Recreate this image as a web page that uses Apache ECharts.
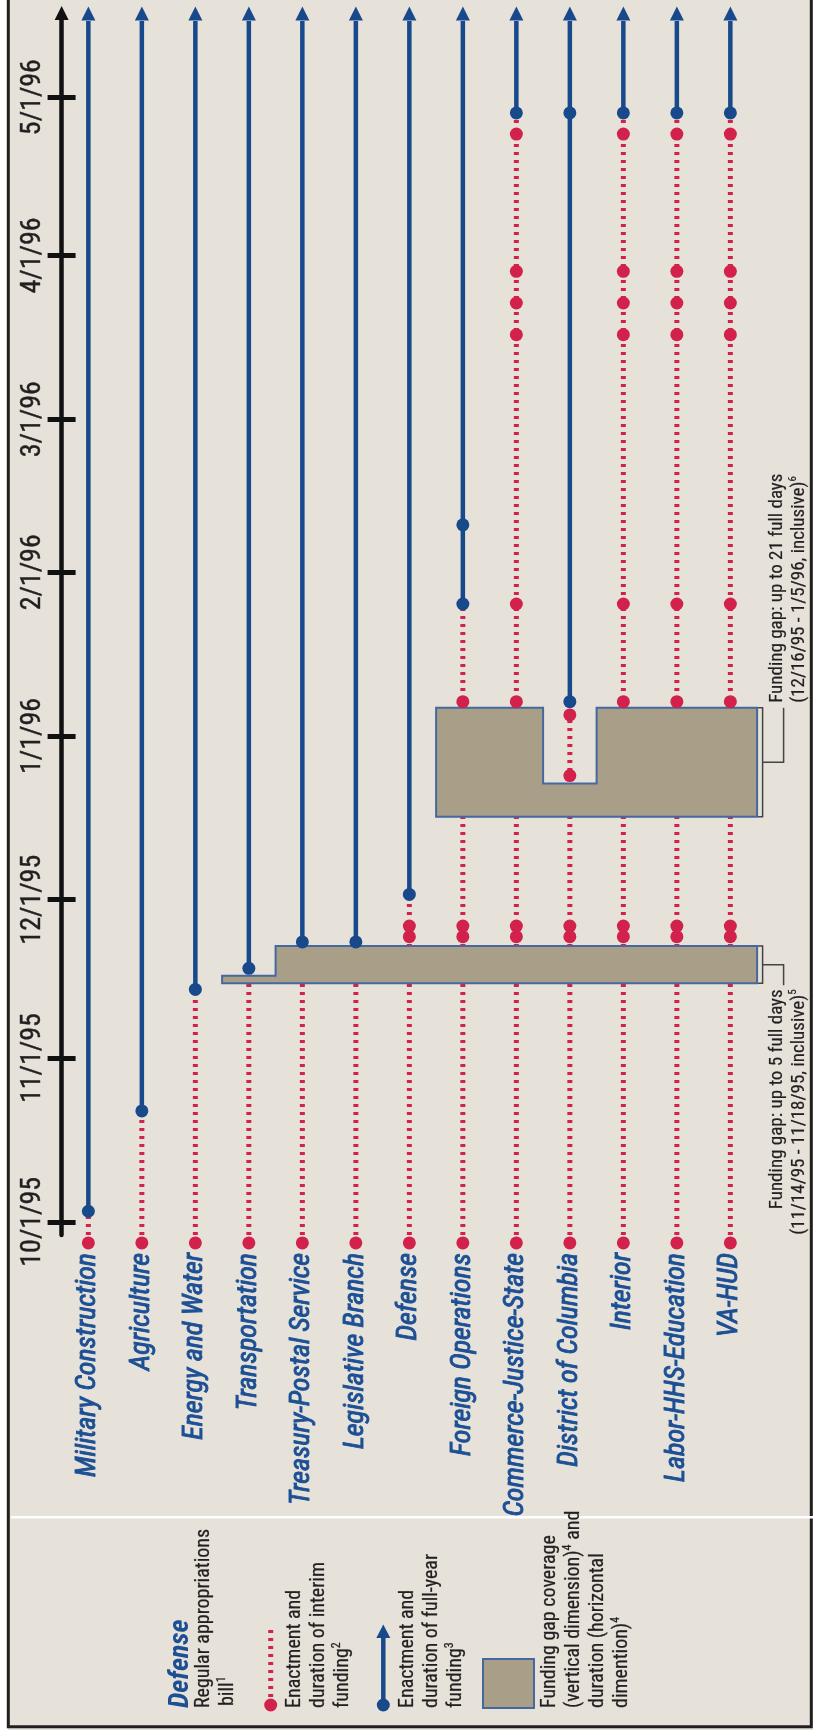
<!DOCTYPE html>
<html><head><meta charset="utf-8">
<script src="https://cdn.jsdelivr.net/npm/echarts@6/dist/echarts.min.js"></script>
<style>html,body{margin:0;padding:0;background:#fff}#c{width:813px;height:1730px}</style>
</head><body><div id="c"></div>
<script>
// ---------- data ----------
const categories = ['Military Construction', 'Agriculture', 'Energy and Water', 'Transportation',
  'Treasury-Postal Service', 'Legislative Branch', 'Defense', 'Foreign Operations',
  'Commerce-Justice-State', 'District of Columbia', 'Interior', 'Labor-HHS-Education', 'VA-HUD'];

const tickDates = ['1995-10-01', '1995-11-01', '1995-12-01', '1996-01-01', '1996-02-01', '1996-03-01', '1996-04-01', '1996-05-01'];
const tickLabels = ['10/1/95', '11/1/95', '12/1/95', '1/1/96', '2/1/96', '3/1/96', '4/1/96', '5/1/96'];

// start of interim funding (first red dot on every line)
const interimStartDate = '1995-09-27';
// later interim-funding enactments (red dots) per bill
const interimDates = [
  [], [], [], [], [], [],
  ['1995-11-24', '1995-11-26'],
  ['1995-11-24', '1995-11-26', '1996-01-07 12'],
  ['1995-11-24', '1995-11-26', '1996-01-07 12', '1996-01-26', '1996-03-17', '1996-03-23', '1996-03-29', '1996-04-24'],
  ['1995-11-24', '1995-11-26', '1995-12-24 12', '1996-01-05'],
  ['1995-11-24', '1995-11-26', '1996-01-07 12', '1996-01-26', '1996-03-17', '1996-03-23', '1996-03-29', '1996-04-24'],
  ['1995-11-24', '1995-11-26', '1996-01-07 12', '1996-01-26', '1996-03-17', '1996-03-23', '1996-03-29', '1996-04-24'],
  ['1995-11-24', '1995-11-26', '1996-01-07 12', '1996-01-26', '1996-03-17', '1996-03-23', '1996-03-29', '1996-04-24']
];
// full-year funding enactments (blue dots) per bill
const fullYearDates = [
  ['1995-10-03'], ['1995-10-22'], ['1995-11-14'], ['1995-11-18'], ['1995-11-23'], ['1995-11-23'],
  ['1995-12-02'], ['1996-01-26', '1996-02-10'], ['1996-04-28'], ['1996-01-07 12', '1996-04-28'],
  ['1996-04-28'], ['1996-04-28'], ['1996-04-28']
];

// funding gaps
const gapFirstBill = [3, 7];
const gapStart = ['1995-11-15 04', '1995-12-16 17'];
const gapEnd = ['1995-11-22 05', '1996-01-06 08'];
const gapEarlyEnd = [[0, 3, '1995-11-16 14'], [1, 9, '1995-12-23']]; // [gap, bill, end]
const gapLine1 = ['Funding gap: up to 5 full days', 'Funding gap: up to 21 full days'];
const gapLine2 = ['(11/14/95 - 11/18/95, inclusive)', '(12/16/95 - 1/5/96, inclusive)'];
const gapNote = ['5', '6'];
const gapLabelSide = ['below', 'above'];

// ---------- helpers / styles ----------
const ORIGIN = Date.UTC(1995, 9, 1), DAY = 86400000;
function day(s) {
  const m = s.match(/(\d+)-(\d+)-(\d+)(?: (\d+))?/);
  return (Date.UTC(+m[1], +m[2] - 1, +m[3], +(m[4] || 0)) - ORIGIN) / DAY;
}
const RED = '#d2214a', BLUE = '#17498b', TAN = '#a99e87', EDGE = '#45689e', INK = '#231f20', BG = '#e6e2da';
const NARROW = "'Liberation Sans Narrow', 'Arial Narrow', 'Roboto Condensed', sans-serif";
const LABEL_BLUE = '#1c4f93';

const tickDays = tickDates.map(day);
const startDay = day(interimStartDate);
const AXIS_MIN = -2.5, AXIS_MAX = 227.6;

const interimLineData = categories.map((c, i) => [i, startDay, day(fullYearDates[i][0])]);
const fullLineData = categories.map((c, i) => [i, day(fullYearDates[i][0])]);
const redDots = [];
categories.forEach((c, i) => {
  redDots.push([i, startDay]);
  interimDates[i].forEach(s => redDots.push([i, day(s)]));
});
const blueDots = [];
fullYearDates.forEach((arr, i) => arr.forEach(s => blueDots.push([i, day(s)])));

// ---------- chart ----------
const chart = echarts.init(document.getElementById('c'), null, { renderer: 'canvas' });

function legendText(x, y, text, size, extra) {
  return Object.assign({
    type: 'text', x: x, y: y, rotation: Math.PI / 2, z: 10,
    style: {
      text: text, fill: INK, fontSize: size || 20, fontFamily: NARROW,
      stroke: INK, lineWidth: 0.25,
      align: 'left', verticalAlign: 'middle', rich: {
        s: { fontSize: 12, fontFamily: NARROW, fill: INK, padding: [0, 0, 12, 0] }
      }
    }
  }, extra || {});
}

const option = {
  backgroundColor: BG,
  animation: false,
  grid: { left: 61.6, right: 55.9, top: 20, bottom: 495, outerBoundsMode: 'none', containLabel: false },
  xAxis: {
    type: 'category', data: categories, boundaryGap: true,
    axisLine: { show: false }, axisTick: { show: false }, splitLine: { show: false },
    axisLabel: {
      interval: 0, rotate: 90, margin: 18, fontSize: 28, fontStyle: 'italic',
      fontFamily: NARROW, color: LABEL_BLUE, textBorderColor: LABEL_BLUE, textBorderWidth: 0.9
    }
  },
  yAxis: [{
    type: 'value', min: AXIS_MIN, max: AXIS_MAX, position: 'left',
    axisLine: {
      show: true, lineStyle: { color: '#111', width: 4.5 },
      symbol: ['none', 'triangle'], symbolSize: [14, 14], symbolOffset: [0, 7]
    },
    axisTick: { show: true, customValues: tickDays, length: 14, lineStyle: { color: '#111', width: 5 } },
    axisLabel: {
      show: true, customValues: tickDays, rotate: 90, margin: 15, fontSize: 28, fontFamily: NARROW, color: INK,
      textBorderColor: INK, textBorderWidth: 0.4,
      formatter: v => { const k = tickDays.indexOf(v); return k >= 0 ? tickLabels[k] : ''; }
    },
    splitLine: { show: false }
  }, {
    type: 'value', min: AXIS_MIN, max: AXIS_MAX, position: 'left',
    axisLine: { show: false },
    axisTick: { show: true, inside: true, customValues: tickDays, length: 14, lineStyle: { color: '#111', width: 5 } },
    axisLabel: { show: false }, splitLine: { show: false }
  }],
  series: [
    {
      name: 'Interim funding', type: 'custom', z: 2, clip: false,
      data: interimLineData, encode: { x: 0, y: [1, 2] },
      renderItem: (params, api) => {
        const i = api.value(0);
        const p0 = api.coord([i, api.value(1)]);
        const p1 = api.coord([i, api.value(2)]);
        return { type: 'line', shape: { x1: p0[0], y1: p0[1], x2: p1[0], y2: p1[1] },
          style: { stroke: RED, lineWidth: 5, lineDash: [3, 5] } };
      }
    },
    {
      name: 'Full-year funding', type: 'custom', z: 2, clip: false,
      data: fullLineData, encode: { x: 0, y: 1 },
      renderItem: (params, api) => {
        const i = api.value(0);
        const p0 = api.coord([i, api.value(1)]);
        const p1 = api.coord([i, AXIS_MAX]);
        return { type: 'group', children: [
          { type: 'line', shape: { x1: p0[0], y1: p0[1], x2: p1[0], y2: p1[1] + 1 },
            style: { stroke: BLUE, lineWidth: 4.5 } },
          { type: 'polygon', shape: { points: [[p1[0] - 7, p1[1] + 0.5], [p1[0] + 7, p1[1] + 0.5], [p1[0], p1[1] - 13.5]] },
            style: { fill: BLUE } }
        ] };
      }
    },
    {
      name: 'Funding gap', type: 'custom', z: 3, clip: false,
      data: gapStart.map((s, g) => [g, day(s)]), encode: { y: 1 },
      renderItem: (params, api) => {
        const g = params.dataIndex;
        const bw = api.size([1, 0])[0];
        const edgeL = i => api.coord([i, 0])[0] - bw / 2;
        const yOf = d => api.coord([0, d])[1];
        const first = gapFirstBill[g], last = categories.length - 1;
        const bottom = yOf(day(gapStart[g]));
        const top = yOf(day(gapEnd[g]));
        const pts = [[edgeL(first), bottom], [edgeL(last) + bw, bottom]];
        for (let i = last; i >= first; i--) {
          let e = gapEnd[g];
          gapEarlyEnd.forEach(x => { if (x[0] === g && x[1] === i) e = x[2]; });
          const y = yOf(day(e));
          pts.push([edgeL(i) + bw, y]); pts.push([edgeL(i), y]);
        }
        const xR = edgeL(last) + bw;
        const bx = xR + 5.5, cx = bx + 21;
        const mid = (top + bottom) / 2;
        const below = gapLabelSide[g] === 'below';
        const ty = below ? bottom + 6 : top - 5;
        const align = below ? 'right' : 'left';
        const txt = (x, t) => ({
          type: 'text', x: x, y: ty, rotation: Math.PI / 2,
          style: { text: t, fill: INK, fontSize: 19, fontFamily: NARROW, align: align, verticalAlign: 'middle',
            stroke: INK, lineWidth: 0.2,
            rich: { s: { fontSize: 11, fontFamily: NARROW, fill: INK, padding: [0, 0, 12, 0] } } }
        });
        return { type: 'group', children: [
          { type: 'polygon', shape: { points: pts }, style: { fill: TAN, stroke: EDGE, lineWidth: 2 } },
          { type: 'polyline', shape: { points: [[xR + 1, top], [bx, top], [bx, bottom], [xR + 1, bottom]] },
            style: { stroke: '#444', lineWidth: 1.5, fill: null } },
          { type: 'polyline', shape: { points: [[bx, mid], [cx, mid], [cx, below ? bottom + 2 : top]] },
            style: { stroke: '#444', lineWidth: 1.5, fill: null } },
          txt(bx + 15, gapLine1[g]),
          txt(bx + 37, gapLine2[g] + '{s|' + gapNote[g] + '}')
        ] };
      }
    },
    {
      name: 'Interim enactment', type: 'scatter', z: 4, clip: false,
      data: redDots, symbol: 'circle', symbolSize: 13, itemStyle: { color: RED, opacity: 1 }
    },
    {
      name: 'Full-year enactment', type: 'scatter', z: 4, clip: false,
      data: blueDots, symbol: 'circle', symbolSize: 13, itemStyle: { color: BLUE, opacity: 1 }
    }
  ],
  graphic: [
    { type: 'rect', shape: { x: 0, y: 0, width: 8, height: 1730 }, style: { fill: '#fff' }, z: 0 },
    { type: 'rect', shape: { x: 8.3, y: -5, width: 803, height: 1731.7 }, style: { fill: null, stroke: INK, lineWidth: 3 }, z: 10 },
    { type: 'line', shape: { x1: 11, y1: 1517.3, x2: 813, y2: 1517.3 }, style: { stroke: '#fff', lineWidth: 2.5 }, z: 10 },
    // legend item 1
    legendText(181, 1708, 'Defense', 28, { style: { text: 'Defense', fill: LABEL_BLUE, fontSize: 28, fontStyle: 'italic', fontWeight: 'bold', fontFamily: NARROW, align: 'left', verticalAlign: 'middle' } }),
    legendText(204, 1708, 'Regular appropriations'),
    legendText(228, 1706, 'bill{s|1}'),
    // legend item 2
    { type: 'line', shape: { x1: 270.7, y1: 1705, x2: 270.7, y2: 1628 }, style: { stroke: RED, lineWidth: 5, lineDash: [3, 5] }, z: 10 },
    { type: 'circle', shape: { cx: 270.7, cy: 1705, r: 6.5 }, style: { fill: RED }, z: 11 },
    legendText(295, 1708, 'Enactment and'),
    legendText(319, 1708, 'duration of interim'),
    legendText(343, 1708, 'funding{s|2}'),
    // legend item 3
    { type: 'line', shape: { x1: 383.3, y1: 1705, x2: 383.3, y2: 1637 }, style: { stroke: BLUE, lineWidth: 4.5 }, z: 10 },
    { type: 'polygon', shape: { points: [[376.3, 1638], [390.3, 1638], [383.3, 1624.5]] }, style: { fill: BLUE }, z: 10 },
    { type: 'circle', shape: { cx: 383.3, cy: 1705, r: 6.5 }, style: { fill: BLUE }, z: 11 },
    legendText(408, 1708, 'Enactment and'),
    legendText(432, 1708, 'duration of full-year'),
    legendText(456, 1708, 'funding{s|3}'),
    // legend item 4
    { type: 'rect', shape: { x: 483, y: 1659, width: 51, height: 49 }, style: { fill: TAN, stroke: EDGE, lineWidth: 2 }, z: 10 },
    legendText(550, 1708, 'Funding gap coverage'),
    legendText(574, 1708, '(vertical dimension){s|4} and'),
    legendText(598, 1708, 'duration (horizontal'),
    legendText(622, 1708, 'dimention){s|4}')
  ]
};
chart.setOption(option);
</script>
</body></html>
